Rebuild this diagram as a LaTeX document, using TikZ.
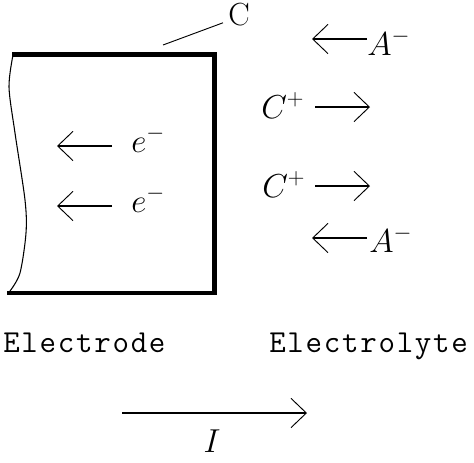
\documentclass[tikz,border=0pt]{standalone}
\usepackage{fontspec}
\usetikzlibrary{arrows.meta}

\makeatletter
\newcommand\spreadtext[2]{\def\sp@gap{#1}\@tfor\sp@ch:=#2\do{\sp@ch\kern\sp@gap}\unkern}
\makeatother

\begin{document}
\begin{tikzpicture}[x=0.75pt,y=0.75pt,yscale=-1,xscale=1,
  flow/.style={line width=1pt,-{Straight Barb[length=11.5pt,width=22pt,line width=0.7pt]}},
  ion/.style={font=\fontsize{24}{28}\selectfont,inner sep=0pt},
  side/.style={font=\fontsize{24}{28}\selectfont\ttfamily,inner sep=0pt}]
\useasboundingbox (0,0) rectangle (474,462); %set diagram size 474 x 462

%Shape: Electrode [thick border]
\draw [line width=3.6pt]  (12,54.5) -- (214.5,54.5) -- (214.5,293) -- (7,293) ;
%Curve: Electrode left edge
\draw [line width=0.8pt]  plot [smooth] coordinates {(13,55) (9,87) (15,133) (25,200) (26,233) (20,273) (10,291)} ;

% Text Node
\node (clabel) [anchor=base west, inner sep=0pt, font=\fontsize{24}{28}\selectfont] at (228,25) {C};
\coordinate (cfoot) at (163,45);
\draw [line width=0.7pt]  (cfoot) -- ([shift={(-5,-3)}]clabel.south west) ;

% Text Node
\node (e1) [ion, anchor=base west] at (131,152) {$e^{-}$};
% Text Node
\node (e2) [ion, anchor=base west] at (131,212) {$e^{-}$};
\coordinate (e1tail) at (112,146);  \coordinate (e1tip) at (57,146);
\coordinate (e2tail) at (112,206);  \coordinate (e2tip) at (57,206);
\draw [flow]  (e1tail) -- (e1tip) ;
\draw [flow]  (e2tail) -- (e2tip) ;

% Text Node
\node (am1) [ion, anchor=base west] at (367,55) {$A^{-}$};
% Text Node
\node (cp1) [ion, anchor=base west] at (261,118) {$C^{+}$};
% Text Node
\node (cp2) [ion, anchor=base west] at (262,197) {$C^{+}$};
% Text Node
\node (am2) [ion, anchor=base west] at (369,252) {$A^{-}$};
\coordinate (a1tail) at (367,39);  \coordinate (a1tip) at (312,39);
\coordinate (c1tail) at (315,107); \coordinate (c1tip) at (370,107);
\coordinate (c2tail) at (315,186); \coordinate (c2tip) at (370,186);
\coordinate (a2tail) at (367,238); \coordinate (a2tip) at (312,238);
\draw [flow]  (a1tail) -- (a1tip) ;
\draw [flow]  (c1tail) -- (c1tip) ;
\draw [flow]  (c2tail) -- (c2tip) ;
\draw [flow]  (a2tail) -- (a2tip) ;

% Text Node
\node (electrode) [side, anchor=base west] at (3,352) {\spreadtext{1.3pt}{Electrode}};
% Text Node
\node (electrolyte) [side, anchor=base west] at (269,352) {\spreadtext{1.3pt}{Electrolyte}};

%Current arrow
\coordinate (itail) at (122,413);  \coordinate (itip) at (307,413);
\draw [flow]  (itail) -- (itip) ;
% Text Node
\node (ilabel) [ion, anchor=base] at (212,452) {$I$};

\end{tikzpicture}
\end{document}
